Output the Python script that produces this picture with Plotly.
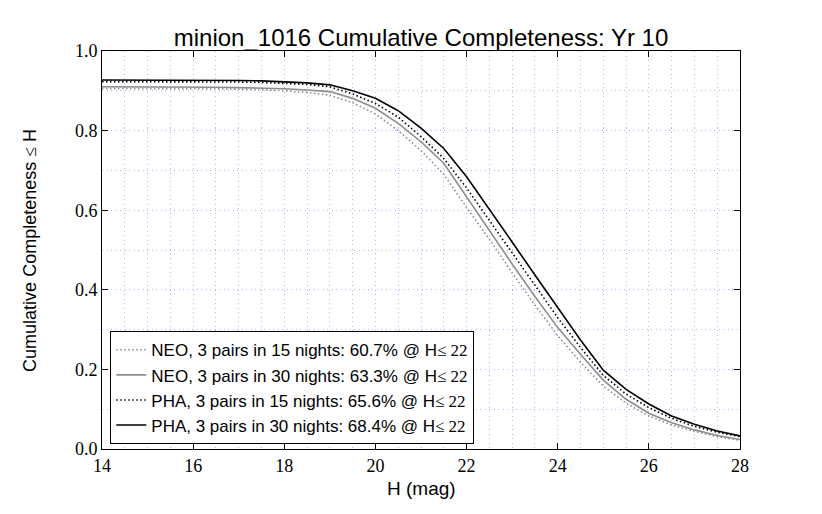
import plotly.graph_objects as go

# H magnitude grid
h_mag = [14.0, 14.5, 15.0, 15.5, 16.0, 16.5, 17.0, 17.5, 18.0, 18.5, 19.0, 19.5, 20.0, 20.5,
         21.0, 21.5, 22.0, 22.5, 23.0, 23.5, 24.0, 24.5, 25.0, 25.5, 26.0, 26.5, 27.0, 27.5, 28.0]

# cumulative completeness <= H
neo_15 = [0.906, 0.906, 0.906, 0.906, 0.905, 0.905, 0.904, 0.903, 0.900, 0.896, 0.889, 0.870, 0.842, 0.800,
          0.750, 0.690, 0.607, 0.527, 0.443, 0.362, 0.285, 0.218, 0.158, 0.115, 0.083, 0.060, 0.044, 0.031, 0.022]
neo_30 = [0.910, 0.910, 0.910, 0.910, 0.909, 0.909, 0.908, 0.907, 0.905, 0.902, 0.898, 0.881, 0.856, 0.818,
          0.772, 0.718, 0.633, 0.551, 0.465, 0.383, 0.305, 0.238, 0.173, 0.125, 0.090, 0.066, 0.048, 0.034, 0.024]
pha_15 = [0.923, 0.923, 0.923, 0.923, 0.923, 0.922, 0.922, 0.921, 0.919, 0.916, 0.910, 0.892, 0.868, 0.834,
          0.785, 0.730, 0.656, 0.575, 0.493, 0.410, 0.330, 0.255, 0.185, 0.138, 0.104, 0.077, 0.057, 0.042, 0.031]
pha_30 = [0.927, 0.927, 0.927, 0.927, 0.927, 0.926, 0.926, 0.925, 0.923, 0.920, 0.915, 0.900, 0.881, 0.850,
          0.806, 0.755, 0.684, 0.603, 0.520, 0.437, 0.355, 0.274, 0.198, 0.150, 0.113, 0.083, 0.062, 0.045, 0.033]

serif = "Liberation Serif"
le = '<span style="font-family:Liberation Serif">≤ 22</span>'

series = [
    ("NEO, 3 pairs in 15 nights: 60.7% @ H" + le, neo_15, "#8c8c8c", "1.5px,2.5px"),
    ("NEO, 3 pairs in 30 nights: 63.3% @ H" + le, neo_30, "#8c8c8c", "solid"),
    ("PHA, 3 pairs in 15 nights: 65.6% @ H" + le, pha_15, "black", "1.5px,2.5px"),
    ("PHA, 3 pairs in 30 nights: 68.4% @ H" + le, pha_30, "black", "solid"),
]

fig = go.Figure()
for name, vals, col, dash in series:
    fig.add_trace(go.Scatter(x=h_mag, y=vals, mode="lines", name=name,
                             line=dict(color=col, dash=dash, width=1.6)))

grid_col = "rgba(150,150,255,0.75)"
grid_dash = "1px,3.5px"

# page body has an 8px margin, so the figure is shrunk to fit the window
fig.update_layout(
    width=814, height=506,
    margin=dict(l=94, r=82, t=43, b=65),
    paper_bgcolor="white", plot_bgcolor="white",
    font=dict(family="Liberation Sans", size=17, color="black"),
    title=dict(text="minion_1016 Cumulative Completeness: Yr 10", x=0.5, xanchor="center",
               xref="paper", y=0.941, yanchor="middle", font=dict(size=24)),
    legend=dict(x=0.013, y=0.012, xanchor="left", yanchor="bottom",
                bgcolor="white", bordercolor="black", borderwidth=1,
                font=dict(size=17), tracegroupgap=0),
    showlegend=True,
)

# axis titles placed as annotations so they sit where the reference has them
fig.add_annotation(text="H (mag)", xref="paper", yref="paper", x=0.5, y=-0.10,
                   xanchor="center", yanchor="middle", showarrow=False, font=dict(size=19))
fig.add_annotation(text='Cumulative Completeness <span style="font-family:Liberation Serif">≤</span> H',
                   xref="paper", yref="paper", x=-0.113, y=0.5, textangle=-90,
                   xanchor="center", yanchor="middle", showarrow=False, font=dict(size=18))

fig.update_xaxes(
    range=[14, 28], dtick=2, tick0=14,
    showline=True, linecolor="black", linewidth=1, mirror="ticks",
    ticks="inside", ticklen=6, tickcolor="black",
    tickfont=dict(family=serif, size=18),
    showgrid=True, gridcolor=grid_col, griddash=grid_dash, gridwidth=1,
    minor=dict(dtick=0.5, showgrid=True, gridcolor=grid_col, griddash=grid_dash, ticks=""),
    zeroline=False,
)
fig.update_yaxes(
    range=[0, 1], dtick=0.2, tick0=0, tickformat=".1f",
    showline=True, linecolor="black", linewidth=1, mirror="ticks",
    ticks="inside", ticklen=6, tickcolor="black",
    tickfont=dict(family=serif, size=18),
    showgrid=True, gridcolor=grid_col, griddash=grid_dash, gridwidth=1,
    minor=dict(dtick=0.1, showgrid=True, gridcolor=grid_col, griddash=grid_dash, ticks=""),
    zeroline=False,
)

fig.write_html("out.html")
